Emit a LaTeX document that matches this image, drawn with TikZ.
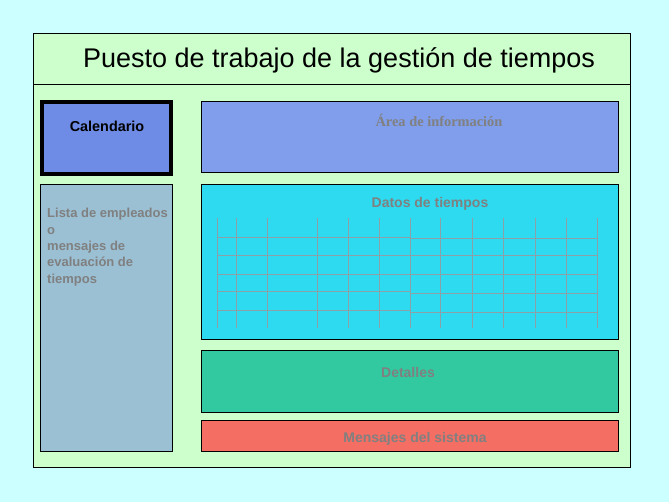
\documentclass[tikz,border=0pt]{standalone}
\usepackage{fontspec}
\setmainfont{Liberation Sans}
\newfontfamily\serifb{Liberation Serif}
\definecolor{bgc}{RGB}{204,255,255}
\definecolor{frameg}{RGB}{204,255,204}
\definecolor{calc}{RGB}{110,140,230}
\definecolor{areac}{RGB}{128,158,235}
\definecolor{datc}{RGB}{45,218,240}
\definecolor{listc}{RGB}{155,192,212}
\definecolor{detc}{RGB}{50,200,160}
\definecolor{msgc}{RGB}{245,110,100}
\definecolor{labc}{RGB}{128,128,128}
\definecolor{gridc}{RGB}{140,160,168}
\tikzset{
  panel/.style={draw=black, line width=1pt},
  lab/.style={text=labc, font=\fontsize{14}{16}\selectfont\bfseries, inner sep=0pt},
  gline/.style={draw=gridc, line width=1pt}
}
\begin{document}
\begin{tikzpicture}[x=1pt,y=-1pt]
\useasboundingbox (0,0) rectangle (669,502);
\fill[bgc] (0,0) rectangle (669,502);
\draw[panel, fill=frameg] (33.5,33.5) rectangle (630.5,467.5);
\draw[line width=1pt] (33.5,84.5) -- (630.5,84.5);
\node[inner sep=0pt, font=\fontsize{27}{30}\selectfont] (title) at (339,60) {Puesto de trabajo de la gestión de tiempos};
% calendario
\draw[draw=black, line width=3.5pt, fill=calc] (42,102) rectangle (171,174);
\node[inner sep=0pt, font=\fontsize{14.4}{16}\selectfont\bfseries] (cal) at (107,126) {Calendario};
% area
\draw[panel, fill=areac] (201.5,101.5) rectangle (618.5,172.5);
\node[lab, font=\serifb\fontsize{14.4}{16}\selectfont\bfseries] (area) at (439,120) {Área de información};
% lista
\draw[panel, fill=listc] (40.5,184.5) rectangle (172.5,451.5);
\node[lab, align=left, anchor=north west, font=\fontsize{13}{16.4}\selectfont\bfseries] (lista) at (47,208) {Lista de empleados\\o\\mensajes de\\evaluación de\\tiempos};
% datos
\draw[panel, fill=datc] (201.5,184.5) rectangle (618.5,339.5);
\node[lab] (datos) at (430,204) {Datos de tiempos};
\foreach \x in {217,236,267,317,348,379,410,440,472,503,535,566,597}
  \draw[gline] (\x+0.5,218) -- (\x+0.5,328);
\foreach \y in {237,255,274,291,310}
  \draw[gline] (217,\y+0.5) -- (410,\y+0.5);
\foreach \y in {238,255,274,293,312}
  \draw[gline] (410,\y+0.5) -- (597,\y+0.5);
% detalles
\draw[panel, fill=detc] (201.5,350.5) rectangle (618.5,412.5);
\node[lab] (det) at (408,372) {Detalles};
% mensajes
\draw[panel, fill=msgc] (201.5,420.5) rectangle (618.5,451.5);
\node[lab] (msg) at (415,439) {Mensajes del sistema};
\end{tikzpicture}
\end{document}
